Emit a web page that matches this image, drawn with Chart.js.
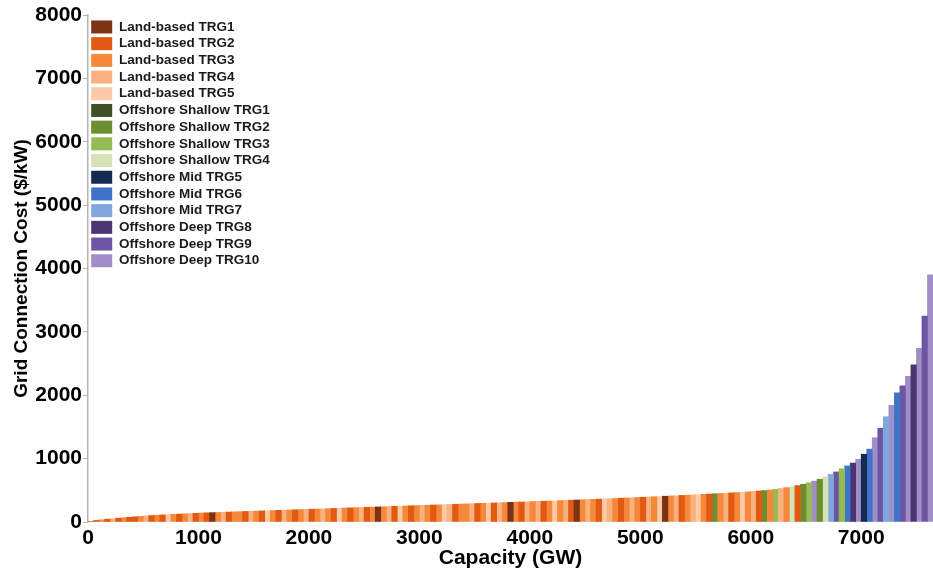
<!DOCTYPE html>
<html>
<head>
<meta charset="utf-8">
<script src="https://cdn.jsdelivr.net/npm/chart.js@4/dist/chart.umd.min.js"></script>
<style>
    html, body { margin: 0; padding: 0; background: #ffffff; }
    #wrap { width: 933px; height: 574px; }
</style>
</head>
<body>
<div id="wrap"><canvas id="supply" width="933" height="574"></canvas></div>
<script>
'use strict';

// ── Data ─────────────────────────────────────────────────────────────────────
// Each block is 50 GW of capacity, sorted by grid connection cost
var BLOCK_GW = 50;

var trgNames = [
    'Land-based TRG1', 'Land-based TRG2', 'Land-based TRG3', 'Land-based TRG4', 'Land-based TRG5',
    'Offshore Shallow TRG1', 'Offshore Shallow TRG2', 'Offshore Shallow TRG3', 'Offshore Shallow TRG4',
    'Offshore Mid TRG5', 'Offshore Mid TRG6', 'Offshore Mid TRG7',
    'Offshore Deep TRG8', 'Offshore Deep TRG9', 'Offshore Deep TRG10'
];

var trgColors = [
    '#7b3413', '#e25a12', '#f6883c', '#f9b27e', '#fccaa6',
    '#3f5123', '#6a8e30', '#94bc52', '#d4e3b5',
    '#152a52', '#3f74c9', '#7fa6dd',
    '#4b3572', '#6d56a1', '#a08fc6'
];

// cost of each block ($/kW)
var blockCost = [
    10, 25, 35, 45, 52, 60, 68, 75, 82, 90,
    97, 102, 107, 112, 117, 121, 125, 129, 133, 137,
    142, 145, 148, 151, 154, 157, 160, 163, 166, 169,
    172, 175, 178, 181, 184, 187, 190, 193, 196, 199,
    202, 205, 208, 211, 214, 217, 220, 223, 226, 229,
    232, 235, 238, 241, 244, 247, 250, 253, 256, 259,
    262, 265, 268, 271, 274, 277, 280, 283, 286, 289,
    292, 295, 298, 301, 304, 307, 310, 313, 316, 319,
    322, 325, 328, 331, 334, 338, 341, 344, 347, 351,
    354, 358, 361, 365, 368, 372, 375, 379, 383, 387,
    391, 395, 399, 403, 407, 411, 415, 419, 423, 428,
    432, 437, 441, 446, 450, 455, 460, 465, 470, 476,
    482, 489, 497, 506, 516, 528, 542, 558, 575, 595,
    618, 645, 675, 710, 750, 790, 840, 885, 930, 990,
    1070, 1150, 1330, 1480, 1660, 1840, 2040, 2150, 2300, 2480,
    2740, 3250, 3900
];

// resource group (index into trgNames) of each block
var blockTrg = [
    1, 1, 2, 1, 3, 1, 2, 1, 1, 2,  3, 1, 2, 1, 4, 2, 1, 2, 3, 1,
    2, 1, 0, 2, 3, 1, 2, 2, 1, 3,  2, 1, 4, 2, 1, 3, 2, 1, 2, 3,
    1, 2, 3, 2, 1, 4, 2, 1, 2, 3,  1, 2, 0, 2, 3, 1, 4, 2, 1, 2,
    3, 2, 1, 2, 4, 3, 1, 2, 2, 3,  1, 2, 4, 1, 3, 2, 0, 2, 1, 3,
    2, 3, 1, 2, 4, 2, 3, 1, 0, 2,  3, 2, 1, 4, 3, 2, 1, 2, 3, 2,
    1, 3, 2, 4, 0, 2, 3, 1, 2, 3,  4, 2, 1, 6, 2, 3, 1, 2, 4, 2,
    3, 1, 6, 2, 7, 3, 2, 8, 1, 6,
    7, 14, 6, 8, 11, 13, 7, 10, 12, 14,
    9, 10, 14, 13, 11, 14, 10, 13, 14, 12, 14, 13, 14
];

var xMax = 7650;
var xTickValues = [0, 1000, 2000, 3000, 4000, 5000, 6000, 7000];
var yTickValues = [0, 1000, 2000, 3000, 4000, 5000, 6000, 7000, 8000];

// ── Build one bar dataset per resource group ─────────────────────────────────
function buildDatasets() {
    var sets = [];
    for (var k = 0; k < trgNames.length; k++) {
        var pts = [];
        for (var i = 0; i < blockCost.length; i++) {
            if (blockTrg[i] === k) {
                pts.push({ x: i * BLOCK_GW + BLOCK_GW / 2, y: blockCost[i] });
            }
        }
        sets.push({
            label: trgNames[k],
            data: pts,
            backgroundColor: trgColors[k],
            borderWidth: 0,
            grouped: false,
            barPercentage: 1,
            categoryPercentage: 1
        });
    }
    return sets;
}

// ticks dipasang langsung dari array supaya tidak dibagi rata oleh Chart.js
function _setTicks(values) {
    return function (scale) {
        scale.ticks = values.map(function (v) { return { value: v }; });
    };
}

Chart.defaults.font.family = "'Liberation Sans', Arial, sans-serif";
Chart.defaults.color = '#000000';

new Chart(document.getElementById('supply').getContext('2d'), {
    type: 'bar',
    data: { datasets: buildDatasets() },
    options: {
        responsive: false,
        animation: false,
        layout: { padding: { top: 15, right: 0, left: 0, bottom: 0 } },
        plugins: {
            tooltip: { enabled: false },
            legend: {
                position: 'chartArea',
                align: 'start',
                // empty title only pushes the entries down a bit
                title: {
                    display: true,
                    text: '',
                    font: { size: 10, lineHeight: 1 },
                    padding: { top: 7, bottom: 0 }
                },
                labels: {
                    boxWidth: 21,
                    boxHeight: 13,
                    padding: 3.2,
                    color: '#1a1a1a',
                    font: { size: 13.5, weight: 'bold' }
                }
            }
        },
        scales: {
            x: {
                type: 'linear',
                offset: false,
                min: 0,
                max: xMax,
                grid: { display: false, drawTicks: false },
                border: { display: false },
                afterBuildTicks: _setTicks(xTickValues),
                ticks: {
                    autoSkip: false,
                    padding: 4,
                    maxRotation: 0,
                    font: { size: 21, weight: 'bold' },
                    callback: function (v) { return String(v); }
                },
                title: {
                    display: true,
                    text: 'Capacity (GW)',
                    font: { size: 21, weight: 'bold' },
                    padding: { top: 0, bottom: 3 }
                },
                afterFit: function (scale) { scale.height = 52; }
            },
            y: {
                min: 0,
                max: yTickValues[yTickValues.length - 1],
                grid: {
                    display: true,
                    drawOnChartArea: false,
                    drawTicks: true,
                    tickLength: 5,
                    color: '#b4b4b4'
                },
                border: { display: true, color: '#b4b4b4', width: 1.5 },
                afterBuildTicks: _setTicks(yTickValues),
                ticks: {
                    autoSkip: false,
                    padding: 1,
                    font: { size: 21, weight: 'bold' },
                    callback: function (v) { return String(v); }
                },
                title: {
                    display: true,
                    text: 'Grid Connection Cost ($/kW)',
                    font: { size: 19, weight: 'bold' },
                    padding: { top: 10, bottom: 0 }
                },
                afterFit: function (scale) { scale.width = 88; }
            }
        }
    }
});
</script>
</body>
</html>
